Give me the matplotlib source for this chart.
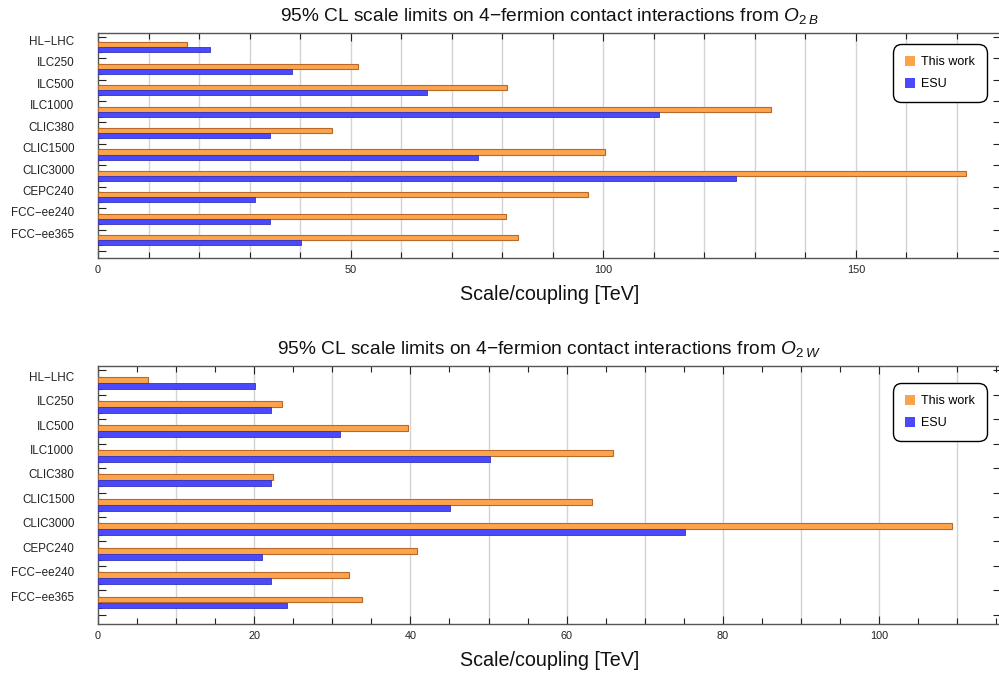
import numpy as np
import matplotlib
matplotlib.use("Agg")
import matplotlib.pyplot as plt
from matplotlib.patches import Patch
from matplotlib.ticker import MultipleLocator, FixedLocator

plt.rcParams['font.family'] = ['Liberation Sans', 'DejaVu Sans']
plt.rcParams['mathtext.fontset'] = 'custom'
plt.rcParams['mathtext.rm'] = 'Liberation Sans'
plt.rcParams['mathtext.it'] = 'Liberation Sans:italic'

# Colliders, top to bottom
colliders = ["HL\u2212LHC", "ILC250", "ILC500", "ILC1000", "CLIC380",
             "CLIC1500", "CLIC3000", "CEPC240", "FCC\u2212ee240", "FCC\u2212ee365"]

# Scale/coupling limits [TeV], operator O_2B
o2b_this_work = [17.7, 51.5, 81.0, 133.1, 46.4, 100.3, 171.8, 97.0, 80.7, 83.1]
o2b_esu = [22.1, 38.3, 65.2, 111.1, 34.1, 75.3, 126.3, 31.1, 34.1, 40.2]

# Scale/coupling limits [TeV], operator O_2W
o2w_this_work = [6.45, 23.5, 39.7, 65.9, 22.4, 63.3, 109.3, 40.9, 32.1, 33.8]
o2w_esu = [20.1, 22.1, 31.0, 50.2, 22.1, 45.1, 75.2, 20.95, 22.1, 24.2]

ORANGE = "#FCA44C"
ORANGE_EDGE = "#B8692A"
BLUE = "#4A4AFA"
BLUE_EDGE = "#3434C0"
SPINE = "#555555"

W, H = 999, 677
fig = plt.figure(figsize=(W / 100, H / 100), dpi=100)


def px_axes(left, top, right, bottom):
    return fig.add_axes([left / W, 1 - bottom / H, (right - left) / W, (bottom - top) / H])


def draw_panel(ax, this_work, esu, xmax, major, minor, bar_h, ylims, label_off, title,
               legend_y):
    n = len(colliders)
    y = np.arange(n)
    ax.barh(y - bar_h / 2, this_work, height=bar_h, color=ORANGE,
            edgecolor=ORANGE_EDGE, linewidth=0.8, zorder=3)
    ax.barh(y + bar_h / 2, esu, height=bar_h, color=BLUE,
            edgecolor=BLUE_EDGE, linewidth=0.6, zorder=3)

    ax.set_xlim(0, xmax)
    ax.set_ylim(*ylims)

    # vertical grid every 10 TeV
    for gx in np.arange(10, xmax, 10):
        ax.axvline(gx, color="#D4D4D4", lw=1.0, zorder=1)

    for s in ax.spines.values():
        s.set_color(SPINE)
        s.set_linewidth(1.0)

    ax.xaxis.set_major_locator(MultipleLocator(major))
    ax.xaxis.set_minor_locator(MultipleLocator(minor))
    ax.tick_params(axis="x", which="both", direction="in", top=True, bottom=True,
                   colors="#222222", labelsize=7.8, pad=5)
    ax.tick_params(axis="x", which="major", length=6, width=0.8)
    ax.tick_params(axis="x", which="minor", length=4, width=0.8)

    # y ticks: group boundaries (major) and bar edges (minor)
    ax.yaxis.set_major_locator(FixedLocator(np.arange(n + 1) - 0.5))
    ax.yaxis.set_minor_locator(FixedLocator(np.concatenate([y - bar_h, y, y + bar_h])))
    ax.tick_params(axis="y", which="both", direction="in", left=True, right=True,
                   labelleft=False, colors="#222222")
    ax.tick_params(axis="y", which="major", length=6, width=0.8)
    ax.tick_params(axis="y", which="minor", length=3, width=0.8, right=False)

    for i, name in enumerate(colliders):
        ax.annotate(name, xy=(0, i + label_off), xycoords=("axes fraction", "data"),
                    xytext=(-17, 0), textcoords="offset points", ha="right", va="center",
                    fontsize=8.4, color="#222222")

    ax.set_title(title, fontsize=13.8, pad=8.5, color="#111111")
    ax.set_xlabel("Scale/coupling [TeV]", fontsize=14.2, labelpad=7.5, color="#111111")

    handles = [Patch(facecolor=ORANGE, edgecolor="none", label="This work"),
               Patch(facecolor=BLUE, edgecolor="none", label="ESU")]
    leg = ax.legend(handles=handles, loc="upper right", bbox_to_anchor=(0.984, legend_y),
                    fontsize=9, frameon=True, fancybox=True, handlelength=0.8,
                    handleheight=0.8, handletextpad=0.5, labelspacing=0.8,
                    borderpad=0.95, borderaxespad=0)
    frame = leg.get_frame()
    frame.set_edgecolor("black")
    frame.set_linewidth(1.0)
    frame.set_facecolor("white")
    frame.set_alpha(1)
    frame.set_boxstyle("round,pad=0,rounding_size=0.7")
    leg.set_zorder(5)


ax_top = px_axes(98, 33, 1001, 258)
draw_panel(ax_top, o2b_this_work, o2b_esu, (1001 - 98) / 5.053, 50, 10, 0.235,
           (9.83, -0.67), -0.25,
           r"95% CL scale limits on 4$\mathrm{-}$fermion contact interactions from $O_{\mathrm{2}\;B}$",
           0.95)

ax_bot = px_axes(98, 366, 1001, 624)
draw_panel(ax_bot, o2w_this_work, o2w_esu, (1001 - 98) / 7.81, 20, 5, 0.245,
           (9.88, -0.68), -0.2,
           r"95% CL scale limits on 4$\mathrm{-}$fermion contact interactions from $O_{\mathrm{2}\;W}$",
           0.933)

fig.savefig("out.png", dpi=100)
